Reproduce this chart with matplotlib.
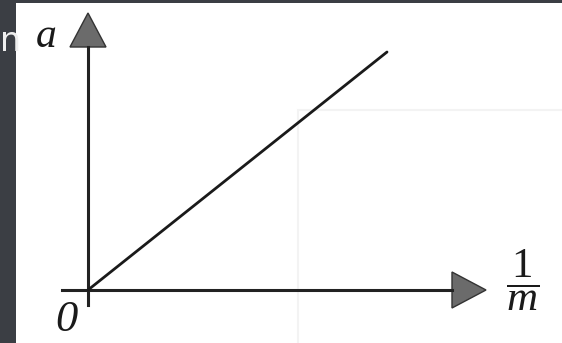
import matplotlib.pyplot as plt
from matplotlib.patches import Polygon, Rectangle

# line a = k * (1/m), drawn from the origin (units: 100 px)
inv_m = [0.0, 2.99]
accel = [0.0, 2.38]

# axis extents and labels
x_axis = [-0.26, 3.64]
y_axis = [-0.15, 2.43]
x_label = r'$\dfrac{\mathit{1}}{m}$'
y_label = 'a'
origin_label = '0'

plt.rcParams['mathtext.fontset'] = 'custom'
plt.rcParams['mathtext.it'] = 'Liberation Serif:italic'
plt.rcParams['mathtext.rm'] = 'Liberation Serif'

fig = plt.figure(figsize=(5.62, 3.43), dpi=100)
ax = fig.add_axes([0, 0, 1, 1])
ax.set_xlim(-0.88, 4.74)
ax.set_ylim(-0.53, 2.90)
ax.axis('off')

# faint scanned table border in the background
ax.add_patch(Rectangle((2.1, -0.6), 3.54, 2.4, fill=False, ec='#f3f3f3', lw=1.5))

# axes
ax.plot(x_axis, [0, 0], color='#222222', lw=2.2)
ax.plot([0, 0], y_axis, color='#222222', lw=2.2)

# arrow heads
ax.add_patch(Polygon([[-0.18, y_axis[1]], [0.18, y_axis[1]], [0, 2.77]],
                     closed=True, fc='#6b6b6b', ec='#333333', lw=1))
ax.add_patch(Polygon([[x_axis[1], 0.18], [x_axis[1], -0.18], [3.98, 0]],
                     closed=True, fc='#6b6b6b', ec='#333333', lw=1))

# data line
ax.plot(inv_m, accel, color='#1a1a1a', lw=2, solid_capstyle='round')

# labels
ax.text(-0.42, 2.53, y_label, fontsize=30, family='Liberation Serif', style='italic',
        ha='center', va='center', color='#1a1a1a')
ax.text(-0.22, -0.30, origin_label, fontsize=32, family='Liberation Serif', style='italic',
        ha='center', va='center', color='#1a1a1a')
ax.text(4.35, 0.10, x_label, fontsize=31, ha='center', va='center', color='#1a1a1a')

# dark screenshot border
fig.patches.append(Rectangle((0, 0), 16 / 562, 1, transform=fig.transFigure,
                             fc='#3b3e44', ec='none'))
fig.patches.append(Rectangle((0, 1 - 3 / 343), 1, 3 / 343, transform=fig.transFigure,
                             fc='#3b3e44', ec='none'))
fig.text(0.0, 0.88, 'n', fontsize=24, color='#eeeeee', ha='left', va='center')

fig.savefig('out.png', dpi=100)
